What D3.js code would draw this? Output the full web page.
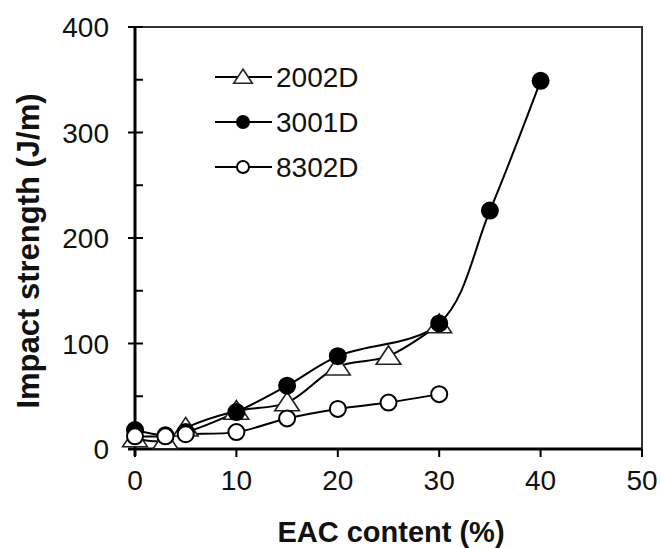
<!DOCTYPE html>
<html>
<head>
<meta charset="utf-8">
<script src="https://cdn.jsdelivr.net/npm/d3@7"></script>
<style>
  html, body { margin: 0; padding: 0; background: #fff; }
  svg { display: block; font-family: "Liberation Sans", Arial, sans-serif; }
</style>
</head>
<body>
<svg id="chart" width="661" height="548"></svg>
<script>
// EAC content (%) for each grade
const x2002 = [0, 3, 5, 10, 15, 20, 25, 30];
const y2002 = [10, 8, 20, 36, 44, 78, 88, 118];

const x3001 = [0, 3, 5, 10, 15, 20, 30, 35, 40];
const y3001 = [18, 13, 16, 35, 60, 88, 119, 226, 349];

const x8302 = [0, 3, 5, 10, 15, 20, 25, 30];
const y8302 = [12, 12, 14, 16, 29, 38, 44, 52];

const seriesNames = ["2002D", "3001D", "8302D"];
const xTicks = [0, 10, 20, 30, 40, 50];
const yTicks = [0, 100, 200, 300, 400];
const yMinorTicks = [50, 150, 250, 350];

const svg = d3.select("#chart");
const plotL = 135, plotR = 642, plotT = 27, plotB = 449;

const x = d3.scaleLinear().domain([0, 50]).range([plotL, plotR]);
const y = d3.scaleLinear().domain([0, 400]).range([plotB, plotT]);

// plot frame (top and right)
svg.append("path")
  .attr("d", `M${plotL},${plotT}H${plotR}V${plotB}`)
  .attr("fill", "none").attr("stroke", "#333").attr("stroke-width", 2);

// y axis: major ticks cross the axis, minor ticks point inward
const yAxis = svg.append("g").attr("transform", `translate(${plotL},0)`);
yAxis.append("line").attr("x1", 0).attr("x2", 0).attr("y1", plotT).attr("y2", plotB + 7)
  .attr("stroke", "#000").attr("stroke-width", 3);
yAxis.selectAll("line.major").data(yTicks).join("line").attr("class", "major")
  .attr("x1", -7).attr("x2", 8).attr("y1", d => y(d)).attr("y2", d => y(d))
  .attr("stroke", "#000").attr("stroke-width", 2);
yAxis.selectAll("line.minor").data(yMinorTicks).join("line").attr("class", "minor")
  .attr("x1", 0).attr("x2", 8).attr("y1", d => y(d)).attr("y2", d => y(d))
  .attr("stroke", "#000").attr("stroke-width", 2);
yAxis.selectAll("text").data(yTicks).join("text")
  .attr("x", -26).attr("y", d => y(d) + 10)
  .attr("text-anchor", "end").attr("font-size", 28).attr("fill", "#111")
  .text(d => d);

// x axis
const xAxis = svg.append("g").attr("transform", `translate(0,${plotB})`);
xAxis.append("line").attr("x1", plotL - 7).attr("x2", plotR).attr("y1", 0).attr("y2", 0)
  .attr("stroke", "#000").attr("stroke-width", 3);
xAxis.selectAll("line.tick").data(xTicks).join("line").attr("class", "tick")
  .attr("x1", d => x(d)).attr("x2", d => x(d)).attr("y1", 0).attr("y2", 8)
  .attr("stroke", "#000").attr("stroke-width", 2);
xAxis.selectAll("text").data(xTicks).join("text")
  .attr("x", d => x(d)).attr("y", 41)
  .attr("text-anchor", "middle").attr("font-size", 28).attr("fill", "#111")
  .text(d => d);

// axis titles
svg.append("text")
  .attr("transform", "translate(39,251) rotate(-90)")
  .attr("text-anchor", "middle").attr("font-size", 31).attr("font-weight", "bold").attr("fill", "#111")
  .text("Impact strength (J/m)");
svg.append("text")
  .attr("x", 391).attr("y", 542)
  .attr("text-anchor", "middle").attr("font-size", 29).attr("font-weight", "bold").attr("fill", "#111")
  .text("EAC content (%)");

const line = d3.line().x(d => x(d[0])).y(d => y(d[1])).curve(d3.curveCatmullRom.alpha(0.5));

const tri = d3.symbol().type(d3.symbolTriangle);

function drawMarker(g, kind, cx, cy, scale) {
  if (kind === "tri") {
    g.append("path")
      .attr("d", tri.size(200 * scale * scale)())
      .attr("transform", `translate(${cx},${cy + 2 * scale}) scale(1.15,1)`)
      .attr("fill", "#fff").attr("stroke", "#222").attr("stroke-width", 1.5);
  } else {
    g.append("circle").attr("cx", cx).attr("cy", cy).attr("r", 8 * scale)
      .attr("fill", kind === "filled" ? "#000" : "#fff")
      .attr("stroke", "#000").attr("stroke-width", 2);
  }
}

const series = [
  { name: seriesNames[0], xs: x2002, ys: y2002, kind: "tri" },
  { name: seriesNames[1], xs: x3001, ys: y3001, kind: "filled" },
  { name: seriesNames[2], xs: x8302, ys: y8302, kind: "open" }
];

// lines first, then markers in series order
const plot = svg.append("g");
series.forEach(s => {
  const pts = s.xs.map((v, i) => [v, s.ys[i]]);
  plot.append("path").datum(pts).attr("d", line)
    .attr("fill", "none").attr("stroke", "#000").attr("stroke-width", 2);
});
series.forEach(s => {
  const g = plot.append("g");
  s.xs.forEach((v, i) => drawMarker(g, s.kind, x(v), y(s.ys[i]), 1));
});

// legend
const legend = svg.append("g");
series.forEach((s, i) => {
  const cy = 77 + i * 45;
  legend.append("line").attr("x1", 215).attr("x2", 272).attr("y1", cy).attr("y2", cy)
    .attr("stroke", "#000").attr("stroke-width", 2);
  drawMarker(legend, s.kind, 243, cy, 0.75);
  legend.append("text").attr("x", 276).attr("y", cy + 10)
    .attr("font-size", 28).attr("fill", "#111").text(s.name);
});
</script>
</body>
</html>
